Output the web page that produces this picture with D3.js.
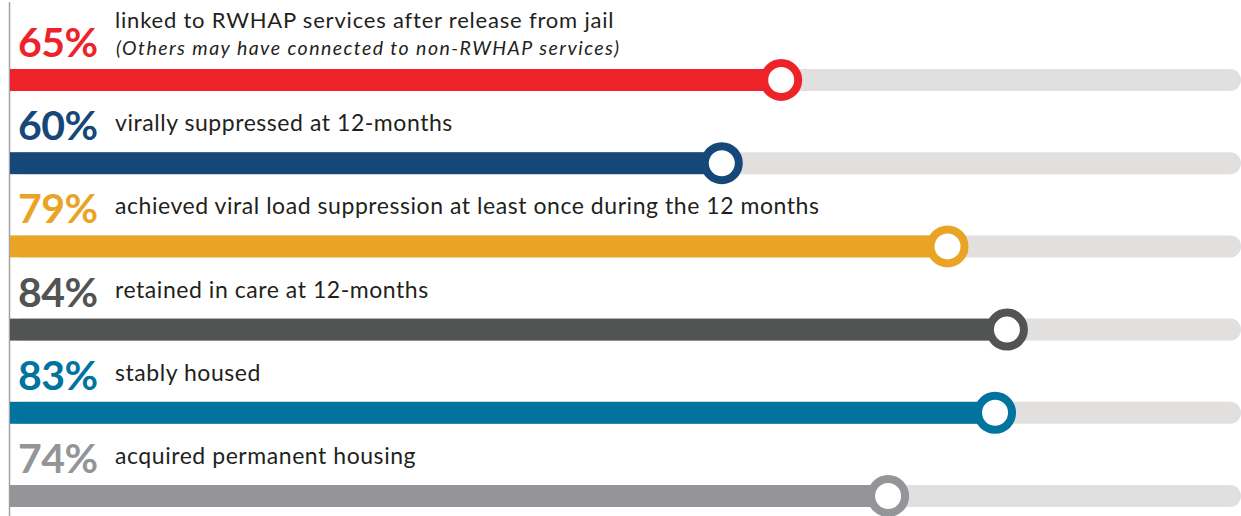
<!DOCTYPE html>
<html>
<head>
<meta charset="utf-8">
<script src="https://cdn.jsdelivr.net/npm/d3@7/dist/d3.min.js"></script>
<style>
  html, body { margin: 0; padding: 0; background: #fff; }
  svg { display: block; }
</style>
</head>
<body>
<svg id="chart" width="1241" height="516"></svg>
<script>
const categories = ["linked", "suppressed12", "suppressedOnce", "retained", "stablyHoused", "permanentHousing"];
const values = [65, 60, 79, 84, 83, 74];
const labels = [
  "linked to RWHAP services after release from jail",
  "virally suppressed at 12-months",
  "achieved viral load suppression at least once during the 12 months",
  "retained in care at 12-months",
  "stably housed",
  "acquired permanent housing"
];
const notes = ["(Others may have connected to non-RWHAP services)", "", "", "", "", ""];
const colors = ["#EE2229", "#154878", "#EAA425", "#525453", "#00739F", "#949598"];

const W = 1241, H = 516;
const svg = d3.select("#chart");

const x = d3.scaleLinear().domain([0, 100]).range([9, 1197]);
const y = d3.scaleBand().domain(categories).range([38.4, 537.6]).padding(0);
const cy = c => y(c) + y.bandwidth() / 2;

const barH = 22;
const trackEnd = 1241;

// vertical baseline
svg.append("line")
  .attr("x1", 9.5).attr("x2", 9.5)
  .attr("y1", 2).attr("y2", H)
  .attr("stroke", "#a3a3a3").attr("stroke-width", 1.5);

const rows = svg.selectAll("g.row")
  .data(categories.map((c, i) => ({ c, i, v: values[i], label: labels[i], note: notes[i], color: colors[i] })))
  .join("g").attr("class", "row");

// grey tracks
rows.append("rect")
  .attr("x", x(0) + 1)
  .attr("y", d => cy(d.c) - barH / 2)
  .attr("width", trackEnd - x(0) - 1)
  .attr("height", barH)
  .attr("rx", barH / 2)
  .attr("fill", "#E1E0DF");

// colored bars
rows.append("rect")
  .attr("x", x(0) + 1)
  .attr("y", d => cy(d.c) - barH / 2)
  .attr("width", d => x(d.v) - x(0) - 1)
  .attr("height", barH)
  .attr("fill", d => d.color);

// knobs
rows.append("circle")
  .attr("cx", d => x(d.v))
  .attr("cy", d => cy(d.c))
  .attr("r", 17)
  .attr("fill", "#fff")
  .attr("stroke", d => d.color)
  .attr("stroke-width", 8);

// percentage labels
rows.append("text")
  .attr("x", 18)
  .attr("y", d => cy(d.c) - 23)
  .attr("font-family", "Lato, 'Open Sans', sans-serif")
  .attr("font-weight", 700)
  .attr("font-size", 41)
  .attr("letter-spacing", -0.5)
  .attr("fill", d => d.color)
  .text(d => d.v + "%");

// description labels
rows.append("text")
  .attr("x", 115)
  .attr("y", d => d.note ? cy(d.c) - 52 : cy(d.c) - 32)
  .attr("font-family", "Lato, 'Open Sans', sans-serif")
  .attr("font-weight", 400)
  .attr("font-size", d => d.note ? 22 : 23)
  .attr("letter-spacing", d => d.note ? 0.8 : 0.55)
  .attr("fill", "#231F20")
  .text(d => d.label);

rows.filter(d => d.note).append("text")
  .attr("x", 116)
  .attr("y", d => cy(d.c) - 25)
  .attr("font-family", "Lato, 'Open Sans', sans-serif")
  .attr("font-style", "italic")
  .attr("font-size", 19.5)
  .attr("letter-spacing", 1.45)
  .attr("fill", "#231F20")
  .text(d => d.note);
</script>
</body>
</html>
